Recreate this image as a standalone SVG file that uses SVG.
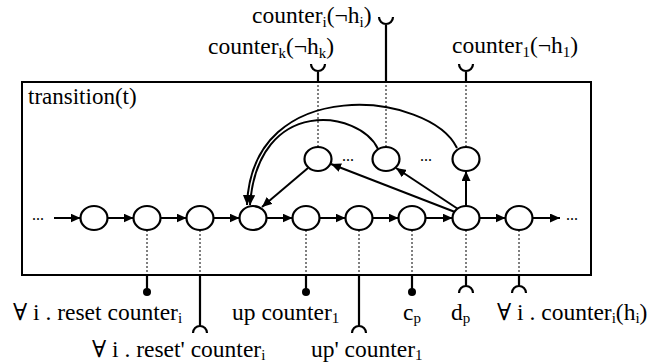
<svg xmlns="http://www.w3.org/2000/svg" width="660" height="364" viewBox="0 0 660 364">
<defs>
<marker id="ah" markerUnits="userSpaceOnUse" markerWidth="11" markerHeight="9" refX="10" refY="4.5" orient="auto"><path d="M0,0 L10,4.5 L0,9 z" fill="#000"/></marker>
</defs>
<style>
.n{fill:#fff;stroke:#000;stroke-width:2.2}
.e{fill:none;stroke:#000;stroke-width:2}
.d{fill:none;stroke:#000;stroke-width:1;stroke-dasharray:2,2}
.s{fill:none;stroke:#000;stroke-width:2.2}
</style>
<rect width="660" height="364" fill="#fff"/>
<g id="box">
<rect x="22" y="82" width="569" height="193" fill="none" stroke="#000" stroke-width="2"/>
<text x="28" y="104" font-family="Liberation Serif, DejaVu Serif, serif" font-size="23">transition(t)</text>
</g>
<g id="connectors">
<path class="d" d="M318 147V82M386 147V82M466 147V82"/>
<path class="d" d="M147 230V275M200 230V275M306 230V275M359 230V275M412 230V275M466 230V275M519 230V275"/>
<path class="s" d="M318 82V71M311 64A7 7 0 0 0 325 64"/>
<path class="s" d="M386 82V24M379 17A7 7 0 0 0 393 17"/>
<path class="s" d="M466 82V71M459 64A7 7 0 0 0 473 64"/>
<path class="s" d="M147 275V290"/><circle cx="147" cy="292" r="4"/>
<path class="s" d="M306 275V290"/><circle cx="306" cy="292" r="4"/>
<path class="s" d="M412 275V290"/><circle cx="412" cy="292" r="4"/>
<path class="s" d="M200 275V326M193 333A7 7 0 0 1 207 333"/>
<path class="s" d="M359 275V326M352 333A7 7 0 0 1 366 333"/>
<path class="s" d="M466 275V286M459 293A7 7 0 0 1 473 293"/>
<path class="s" d="M519 275V286M512 293A7 7 0 0 1 526 293"/>
<path class="e" marker-end="url(#ah)" d="M54 218H80.5"/>
<path class="e" marker-end="url(#ah)" d="M107.5 218H133.5"/>
<path class="e" marker-end="url(#ah)" d="M160.5 218H186.5"/>
<path class="e" marker-end="url(#ah)" d="M213.5 218H239.5"/>
<path class="e" marker-end="url(#ah)" d="M266.5 218H292.5"/>
<path class="e" marker-end="url(#ah)" d="M319.5 218H345.5"/>
<path class="e" marker-end="url(#ah)" d="M372.5 218H398.5"/>
<path class="e" marker-end="url(#ah)" d="M425.5 218H452.5"/>
<path class="e" marker-end="url(#ah)" d="M479.5 218H505.5"/>
<path class="e" marker-end="url(#ah)" d="M532.5 218H560"/>
<path class="e" marker-end="url(#ah)" d="M466 206V171"/>
<path class="e" marker-end="url(#ah)" d="M458 209L396 168"/>
<path class="e" marker-end="url(#ah)" d="M455 212L331 164"/>
<path class="e" marker-end="url(#ah)" d="M308 168L262 207"/>
<path class="e" marker-end="url(#ah)" d="M378 149C360 110 258 95 250 205"/>
<path class="e" marker-end="url(#ah)" d="M457 148C430 92 252 72 247 205"/>
</g>
<g id="n1"><ellipse class="n" cx="94" cy="218" rx="13.5" ry="12"/></g>
<g id="n2"><ellipse class="n" cx="147" cy="218" rx="13.5" ry="12"/></g>
<g id="n3"><ellipse class="n" cx="200" cy="218" rx="13.5" ry="12"/></g>
<g id="n4"><ellipse class="n" cx="253" cy="218" rx="13.5" ry="12"/></g>
<g id="n5"><ellipse class="n" cx="306" cy="218" rx="13.5" ry="12"/></g>
<g id="n6"><ellipse class="n" cx="359" cy="218" rx="13.5" ry="12"/></g>
<g id="n7"><ellipse class="n" cx="412" cy="218" rx="13.5" ry="12"/></g>
<g id="n8"><ellipse class="n" cx="466" cy="218" rx="13.5" ry="12"/></g>
<g id="n9"><ellipse class="n" cx="519" cy="218" rx="13.5" ry="12"/></g>
<g id="u1"><ellipse class="n" cx="318" cy="159" rx="13.5" ry="12"/></g>
<g id="u2"><ellipse class="n" cx="386" cy="159" rx="13.5" ry="12"/></g>
<g id="u3"><ellipse class="n" cx="466" cy="159" rx="13.5" ry="12"/></g>
<g id="dots" font-family="Liberation Serif, serif" font-size="16">
<text x="32" y="220">...</text>
<text x="566" y="220">...</text>
<text x="342" y="161">...</text>
<text x="420" y="161">...</text>
</g>
<g id="labels" font-family="Liberation Serif, DejaVu Serif, serif" font-size="23.5">
<text x="252" y="23">counter<tspan font-size="15" dy="4">i</tspan><tspan dy="-4">(¬h</tspan><tspan font-size="15" dy="4">i</tspan><tspan dy="-4">)</tspan></text>
<text x="208" y="54">counter<tspan font-size="15" dy="4">k</tspan><tspan dy="-4">(¬h</tspan><tspan font-size="15" dy="4">k</tspan><tspan dy="-4">)</tspan></text>
<text x="452" y="53">counter<tspan font-size="15" dy="4">1</tspan><tspan dy="-4">(¬h</tspan><tspan font-size="15" dy="4">1</tspan><tspan dy="-4">)</tspan></text>
<text x="13" y="320">∀ i . reset counter<tspan font-size="15" dy="3">i</tspan></text>
<text x="92" y="357">∀ i . reset' counter<tspan font-size="15" dy="3">i</tspan></text>
<text x="232" y="320">up counter<tspan font-size="15" dy="3">1</tspan></text>
<text x="311" y="357">up' counter<tspan font-size="15" dy="3">1</tspan></text>
<text x="403" y="320">c<tspan font-size="15" dy="3">p</tspan></text>
<text x="451" y="320">d<tspan font-size="15" dy="3">p</tspan></text>
<text x="497" y="320">∀ i . counter<tspan font-size="15" dy="3">i</tspan><tspan dy="-3">(h</tspan><tspan font-size="15" dy="3">i</tspan><tspan dy="-3">)</tspan></text>
</g>
</svg>
